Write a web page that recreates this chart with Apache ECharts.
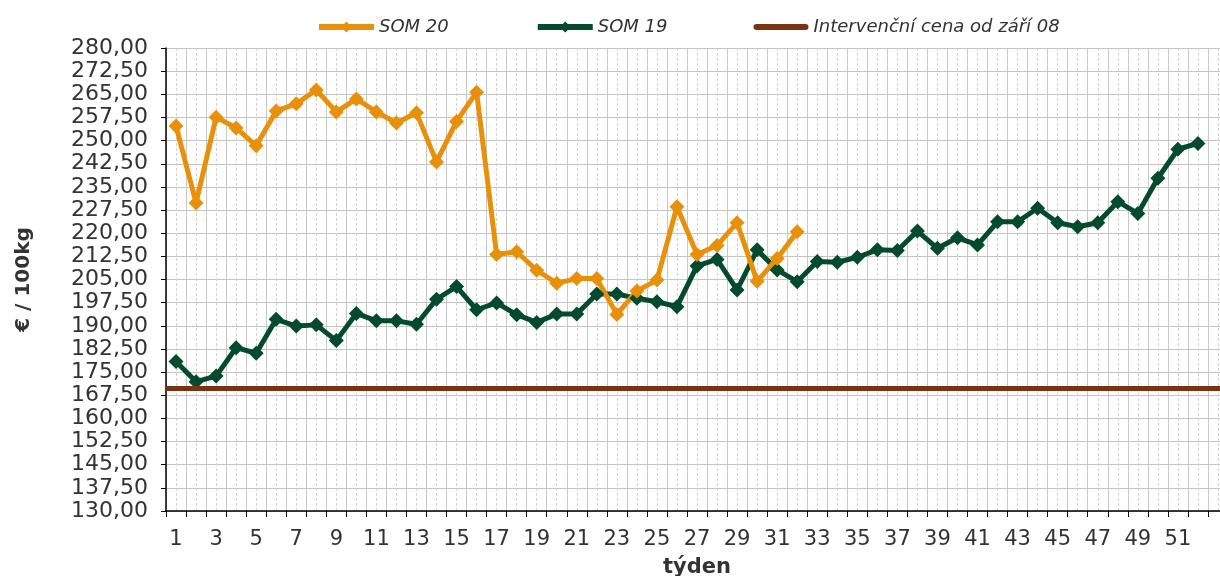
<!DOCTYPE html>
<html>
<head>
<meta charset="utf-8">
<script src="https://cdn.jsdelivr.net/npm/echarts@6/dist/echarts.min.js"></script>
<style>
* { padding: 0; margin: 0; }
body { background: #fff; }
</style>
</head>
<body>
<div id="chart" style="width: 1220px; height: 576px"></div>
<script>
// týden (week) categories, the last slot is empty like in the original
var weeks = ["1", "2", "3", "4", "5", "6", "7", "8", "9", "10", "11", "12", "13",
  "14", "15", "16", "17", "18", "19", "20", "21", "22", "23", "24", "25", "26",
  "27", "28", "29", "30", "31", "32", "33", "34", "35", "36", "37", "38", "39",
  "40", "41", "42", "43", "44", "45", "46", "47", "48", "49", "50", "51", "52", ""];

var som20 = [254.7, 229.8, 257.6, 254.1, 248.3, 259.6, 261.9, 266.4, 259.3, 263.5,
  259.3, 255.7, 259.0, 243.1, 256.2, 265.7, 213.1, 214.0, 208.0, 203.8,
  205.3, 205.3, 193.7, 201.3, 204.8, 228.6, 213.1, 216.0, 223.4, 204.4,
  211.8, 220.5];

var som19 = [178.4, 171.9, 173.7, 182.9, 181.1, 192.1, 189.9, 190.3, 185.2, 194.0,
  191.6, 191.6, 190.5, 198.6, 202.7, 195.2, 197.4, 193.6, 191.1, 193.8,
  193.8, 200.3, 200.3, 198.9, 197.8, 196.2, 209.4, 211.5, 201.6, 214.6,
  208.1, 204.3, 210.8, 210.6, 212.2, 214.6, 214.4, 220.7, 215.1, 218.5,
  216.2, 223.7, 223.7, 228.1, 223.4, 222.1, 223.4, 230.2, 226.4, 237.8,
  247.2, 249.1];

var interventionPrice = 169.8;

var yMin = 130, yMax = 280, yStep = 7.5;

// half-week slots, only used to draw the dashed grid lines in the middle of each week
var halfSlots = [];
weeks.forEach(function (w) { halfSlots.push(w + "a", w + "b"); });

var font = "DejaVu Sans, Verdana, sans-serif";
var chart = echarts.init(document.getElementById("chart"));

chart.setOption({
  animation: false,
  textStyle: { fontFamily: font },
  legend: {
    top: 13,
    left: 311,
    itemGap: 86,
    itemWidth: 55,
    itemHeight: 14,
    lineStyle: { width: 6 },
    textStyle: { fontSize: 18, fontStyle: "italic", color: "#333", fontFamily: font },
    data: [
      { name: "SOM 20" },
      { name: "SOM 19" },
      { name: "Intervenční cena od září 08", icon: "path://M3,0 L52,0 Q55,0 55,3 Q55,6 52,6 L3,6 Q0,6 0,3 Q0,0 3,0 Z" }
    ]
  },
  grid: {
    left: 166, width: 1062, top: 48, bottom: 65,
    containLabel: false, outerBoundsMode: "none"
  },
  xAxis: [
    {
      type: "category",
      data: weeks,
      boundaryGap: true,
      name: "týden",
      nameLocation: "middle",
      nameGap: 46,
      nameTextStyle: { fontSize: 21, fontWeight: "bold", color: "#333", fontFamily: font },
      axisLine: { lineStyle: { color: "#000", width: 1.5 } },
      axisTick: { show: true, length: 6, interval: 0, lineStyle: { color: "#000" } },
      axisLabel: { interval: 1, fontSize: 21, color: "#333", margin: 18 },
      splitLine: { show: true, interval: 0, lineStyle: { color: "#c8c8c8", width: 1 } }
    },
    {
      type: "category",
      data: halfSlots,
      boundaryGap: true,
      position: "bottom",
      show: true,
      axisLine: { show: false },
      axisTick: { show: false },
      axisLabel: { show: false },
      splitLine: {
        show: true,
        interval: function (index) { return index % 2 === 1; },
        lineStyle: { color: "#d2d2d2", type: [3, 2], width: 1 }
      }
    }
  ],
  yAxis: {
    type: "value",
    min: yMin,
    max: yMax,
    interval: yStep,
    name: "€ / 100kg",
    nameLocation: "middle",
    nameGap: 132,
    nameTextStyle: { fontSize: 20, fontWeight: "bold", color: "#333", fontFamily: font },
    axisLine: { show: true, lineStyle: { color: "#000", width: 1.5 } },
    axisTick: { show: true, length: 5, lineStyle: { color: "#000" } },
    axisLabel: {
      fontSize: 22,
      color: "#333",
      margin: 18,
      formatter: function (v) { return v.toFixed(2).replace(".", ","); }
    },
    splitLine: { show: true, lineStyle: { color: "#c4c4c4", width: 1 } }
  },
  series: [
    {
      name: "Intervenční cena od září 08",
      type: "line",
      data: [],
      symbol: "none",
      lineStyle: { color: "#7a3214", width: 5 },
      itemStyle: { color: "#7a3214" },
      markLine: {
        silent: true,
        symbol: "none",
        label: { show: false },
        lineStyle: { color: "#7a3214", width: 5, type: "solid" },
        data: [{ yAxis: interventionPrice }]
      }
    },
    {
      name: "SOM 19",
      type: "line",
      data: som19,
      symbol: "diamond",
      symbolSize: 15,
      showAllSymbol: true,
      lineStyle: { color: "#034a2e", width: 5 },
      itemStyle: { color: "#034a2e" }
    },
    {
      name: "SOM 20",
      type: "line",
      data: som20,
      symbol: "diamond",
      symbolSize: 15,
      showAllSymbol: true,
      lineStyle: { color: "#e8900a", width: 5 },
      itemStyle: { color: "#e8900a" }
    }
  ]
});
</script>
</body>
</html>
